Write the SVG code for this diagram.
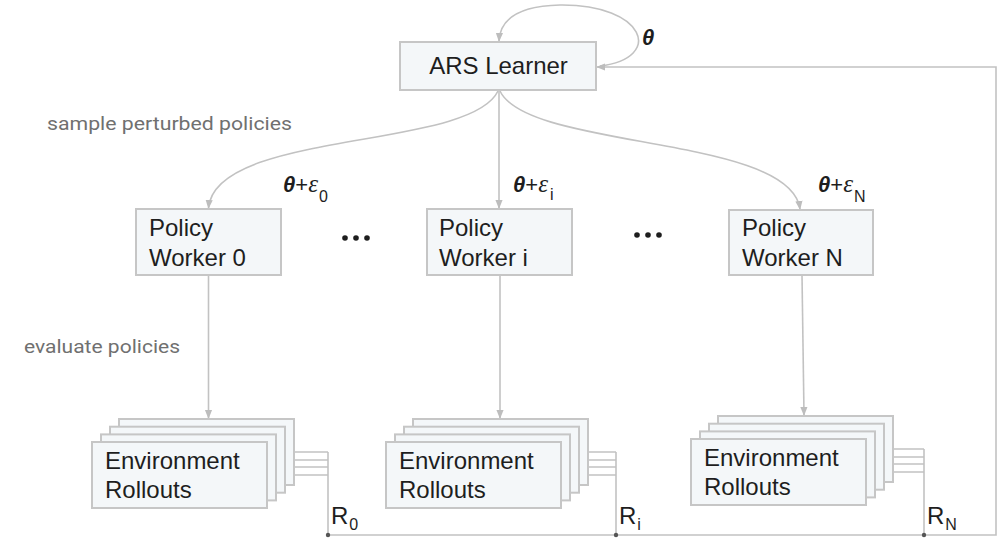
<svg xmlns="http://www.w3.org/2000/svg" width="1001" height="538" viewBox="0 0 1001 538">
  <style>
    .box { fill: #f4f7f9; stroke: #c6c6c6; stroke-width: 2; }
    .node { font-family: "Liberation Sans", Arial, sans-serif; font-size: 24px; fill: #1e1e1e; }
    .note { font-family: Roboto, "Liberation Sans", sans-serif; font-size: 19px; fill: #707070; }
    .wire { fill: none; stroke: #c2c2c2; stroke-width: 1.6; }
    .arrow { fill: none; stroke: #c2c2c2; stroke-width: 1.6; marker-end: url(#head); }
    .th { font-family: "Liberation Sans", Arial, sans-serif; font-weight: bold; font-style: italic; font-size: 22px; fill: #1e1e1e; }
    .eps { font-family: "Liberation Serif", serif; font-style: italic; font-size: 25px; fill: #1e1e1e; }
    .plus { font-family: "Liberation Sans", Arial, sans-serif; font-size: 22px; fill: #1e1e1e; }
    .sub { font-family: "Liberation Sans", Arial, sans-serif; font-size: 16px; fill: #1e1e1e; }
    .dots circle { fill: #1e1e1e; }
  </style>
  <defs>
    <marker id="head" viewBox="0 0 10 10" refX="9" refY="5" markerWidth="9" markerHeight="9" markerUnits="userSpaceOnUse" orient="auto">
      <path d="M0,1 L10,5 L0,9 Z" fill="#bdbdbd"/>
    </marker>
    <!-- one stacked rollout card set; drawn back to front -->
    <g id="stack">
      <rect class="box" x="27" y="-23" width="175" height="66"/>
      <rect class="box" x="18" y="-15.3" width="175" height="66"/>
      <rect class="box" x="9" y="-7.6" width="175" height="66"/>
      <rect class="box" x="0" y="0" width="175" height="66"/>
    </g>
  </defs>

  <!-- side notes -->
  <text class="note" x="47" y="130" textLength="245" lengthAdjust="spacingAndGlyphs">sample perturbed policies</text>
  <text class="note" x="24" y="353" textLength="156" lengthAdjust="spacingAndGlyphs">evaluate policies</text>

  <!-- connectors -->
  <g id="connectors">
    <!-- self loop on the learner -->
    <path class="arrow" d="M600,66 C665,58 645,4 560,5 C515,6 500,22 499,41"/>
    <!-- broadcast of perturbed parameters -->
    <path class="arrow" d="M498,91 C470,150 215,130 208.5,208"/>
    <path class="arrow" d="M499,91 L499,208"/>
    <path class="arrow" d="M500,91 C528,150 790,135 800,209"/>
    <!-- workers to environment rollouts -->
    <path class="arrow" d="M208.5,275 L208.5,418"/>
    <path class="arrow" d="M500,275 L500,418"/>
    <path class="arrow" d="M802,275 L804,415"/>
    <!-- reward collectors: stack 0 -->
    <path class="wire" d="M294,452 H328 M285,460 H328 M276,467 H328 M267,475 H328 M328,452 V535"/>
    <!-- stack i -->
    <path class="wire" d="M588,452 H616 M579,460 H616 M570,467 H616 M561,475 H616 M616,452 V535"/>
    <!-- stack N -->
    <path class="wire" d="M893,449 H924 M884,457 H924 M875,464 H924 M866,472 H924 M924,449 V535"/>
    <!-- reward bus back to the learner -->
    <path class="arrow" d="M328,535 H996 V67 H597"/>
    <circle cx="328" cy="535" r="2.2" fill="#555"/>
    <circle cx="616" cy="535" r="2.2" fill="#555"/>
    <circle cx="924" cy="535" r="2.2" fill="#555"/>
  </g>

  <!-- learner -->
  <g id="ars-learner">
    <rect class="box" x="400" y="42" width="196" height="48"/>
    <text class="node" x="498.5" y="74" text-anchor="middle">ARS Learner</text>
  </g>
  <text class="th" x="642" y="45">θ</text>

  <!-- perturbation labels -->
  <g id="label-0">
    <text x="283" y="192"><tspan class="th">θ</tspan><tspan class="plus">+</tspan><tspan class="eps">ε</tspan><tspan class="sub" dx="1" dy="10">0</tspan></text>
  </g>
  <g id="label-i">
    <text x="513" y="192"><tspan class="th">θ</tspan><tspan class="plus">+</tspan><tspan class="eps">ε</tspan><tspan class="sub" dx="2" dy="8">i</tspan></text>
  </g>
  <g id="label-N">
    <text x="818" y="192"><tspan class="th">θ</tspan><tspan class="plus">+</tspan><tspan class="eps">ε</tspan><tspan class="sub" dx="1" dy="10">N</tspan></text>
  </g>

  <!-- policy workers -->
  <g id="worker-0">
    <rect class="box" x="136" y="209" width="145" height="66"/>
    <text class="node" x="149" y="236">Policy</text>
    <text class="node" x="149" y="266">Worker 0</text>
  </g>
  <g id="worker-i">
    <rect class="box" x="427" y="209" width="145" height="66"/>
    <text class="node" x="439" y="236">Policy</text>
    <text class="node" x="439" y="266">Worker i</text>
  </g>
  <g id="worker-N">
    <rect class="box" x="729" y="210" width="144" height="65"/>
    <text class="node" x="742" y="236">Policy</text>
    <text class="node" x="742" y="266">Worker N</text>
  </g>

  <g class="dots" id="ellipsis-1">
    <circle cx="345" cy="238" r="2.8"/><circle cx="356" cy="238" r="2.8"/><circle cx="367" cy="238" r="2.8"/>
  </g>
  <g class="dots" id="ellipsis-2">
    <circle cx="637" cy="235" r="2.8"/><circle cx="648" cy="235" r="2.8"/><circle cx="659" cy="235" r="2.8"/>
  </g>

  <!-- environment rollouts -->
  <g id="rollouts-0">
    <use href="#stack" x="92" y="442"/>
    <text class="node" x="105" y="469">Environment</text>
    <text class="node" x="105" y="498">Rollouts</text>
  </g>
  <g id="rollouts-i">
    <use href="#stack" x="386" y="442"/>
    <text class="node" x="399" y="469">Environment</text>
    <text class="node" x="399" y="498">Rollouts</text>
  </g>
  <g id="rollouts-N">
    <use href="#stack" x="691" y="439"/>
    <text class="node" x="704" y="466">Environment</text>
    <text class="node" x="704" y="495">Rollouts</text>
  </g>

  <!-- reward labels -->
  <text class="node" x="331" y="524" font-size="22">R<tspan class="sub" dx="1" dy="6">0</tspan></text>
  <text class="node" x="619" y="524" font-size="22">R<tspan class="sub" dx="1" dy="6">i</tspan></text>
  <text class="node" x="927" y="524" font-size="22">R<tspan class="sub" dx="1" dy="6">N</tspan></text>
</svg>
